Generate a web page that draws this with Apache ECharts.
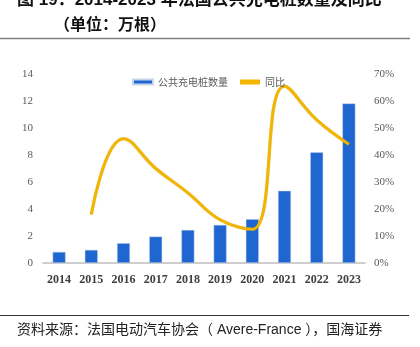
<!DOCTYPE html>
<html><head><meta charset="utf-8">
<script src="https://cdn.jsdelivr.net/npm/echarts@6/dist/echarts.min.js"></script>
<style>html,body{margin:0;padding:0;background:#fff}#c{width:420px;height:347px}</style>
</head><body><div id="c"></div>
<script>
var years = ['2014','2015','2016','2017','2018','2019','2020','2021','2022','2023'];
var piles = [0.82, 0.97, 1.47, 1.96, 2.45, 2.82, 3.25, 5.35, 8.2, 11.82];
var yoy = [null, 0.18, 0.46, 0.35, 0.26, 0.16, 0.125, 0.655, 0.53, 0.44];
var leftTicks = [0, 14, 2];
var rightTicks = [0, 0.7, 0.1];
var titleLine1 = '图 19：2014-2023 年法国公共充电桩数量及同比';
var titleLine2 = '（单位：万根）';
var sourceText = '资料来源：法国电动汽车协会（ Avere-France ），国海证券';

var chart = echarts.init(document.getElementById('c'), null, {renderer:'canvas'});
var serif = '"Liberation Serif","DejaVu Serif",serif';
var cjk = '"Noto Sans CJK SC","Noto Sans",sans-serif';
var mixed = '"Liberation Sans","Noto Sans CJK SC",sans-serif';
chart.setOption({
  animation:false,
  backgroundColor:'#fff',
  grid:{left:43, right:55, top:74, bottom:84},
  legend:{
    top:72, left:127, itemWidth:20, itemHeight:5, itemGap:12,
    textStyle:{fontFamily:cjk, fontSize:10, color:'#595959'},
    data:[{name:'公共充电桩数量', icon:'rect'},{name:'同比', icon:'rect'}]
  },
  xAxis:{
    type:'category', data:years,
    axisLine:{lineStyle:{color:'#bfbfbf', width:1.5}},
    axisTick:{show:false},
    axisLabel:{fontFamily:serif, fontWeight:'bold', fontSize:12, color:'#404040', margin:11}
  },
  yAxis:[{
    type:'value', min:leftTicks[0], max:leftTicks[1], interval:leftTicks[2],
    splitLine:{show:false}, axisLine:{show:false}, axisTick:{show:false},
    axisLabel:{fontFamily:serif, fontSize:11, color:'#595959', margin:10}
  },{
    type:'value', min:rightTicks[0], max:rightTicks[1], interval:rightTicks[2],
    splitLine:{show:false}, axisLine:{show:false}, axisTick:{show:false},
    axisLabel:{fontFamily:serif, fontSize:11, color:'#595959', margin:9,
      formatter:function(v){return Math.round(v*100)+'%';}}
  }],
  series:[{
    name:'公共充电桩数量', type:'bar', data:piles, barWidth:13,
    itemStyle:{color:'#1f66d0', borderColor:'#c9d6ea', borderWidth:0.5}
  },{
    name:'同比', type:'line', yAxisIndex:1, data:yoy, smooth:0.45,
    showSymbol:false, symbol:'none', connectNulls:false,
    lineStyle:{color:'#f2b600', width:3, shadowColor:'rgba(120,90,0,0.35)', shadowBlur:1},
    itemStyle:{color:'#f2b600'}
  }],
  graphic:[
    {type:'text', left:17, top:-8, style:{text:titleLine1, font:'bold 17px '+mixed, fill:'#111'}},
    {type:'text', left:54, top:16, style:{text:titleLine2, font:'bold 16px '+cjk, fill:'#111'}},
    {type:'line', shape:{x1:0,y1:38.5,x2:410,y2:38.5}, style:{stroke:'#7f7f7f', lineWidth:1.5}},
    {type:'line', shape:{x1:0,y1:315.5,x2:409,y2:315.5}, style:{stroke:'#333', lineWidth:1.2}},
    {type:'text', left:17, top:323, style:{text:sourceText, font:'14px '+mixed, fill:'#222'}}
  ]
});
</script></body></html>
